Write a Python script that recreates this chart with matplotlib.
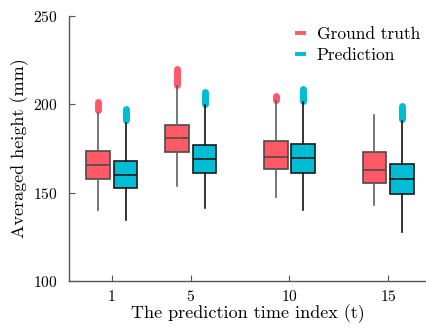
import matplotlib
matplotlib.use("Agg")
import matplotlib.pyplot as plt
from matplotlib.lines import Line2D

plt.rcParams["font.family"] = "cmr10"
plt.rcParams["mathtext.fontset"] = "cm"
plt.rcParams["axes.formatter.use_mathtext"] = True

# Prediction time indices
time_index = [1, 5, 10, 15]

# Box statistics (mm): ground truth
gt_q1 = [157.6, 172.9, 163.3, 155.2]
gt_med = [165.5, 180.6, 169.9, 162.9]
gt_q3 = [173.4, 188.1, 178.9, 172.7]
gt_wlo = [140.0, 153.8, 147.6, 142.8]
gt_whi = [195.0, 210.0, 201.5, 193.8]
gt_flier_lo = [196.7, 210.8, 202.4, None]
gt_flier_hi = [201.3, 219.7, 204.6, None]

# Box statistics (mm): prediction
pr_q1 = [152.4, 160.8, 160.8, 149.2]
pr_med = [160.0, 168.9, 169.3, 157.8]
pr_q3 = [167.6, 176.7, 177.2, 166.3]
pr_wlo = [134.3, 141.4, 140.3, 127.9]
pr_whi = [189.5, 199.5, 201.0, 190.5]
pr_flier_lo = [190.7, 200.1, 201.8, 191.6]
pr_flier_hi = [197.3, 206.9, 208.2, 198.8]

series_names = ["Ground truth", "Prediction"]
red = "#FF5A66"
cyan = "#00BCD4"

fig = plt.figure(figsize=(4.27, 3.30), dpi=100)
ax = fig.add_axes([0.1616, 0.1485, 0.8384, 0.8045])


def draw_group(q1, med, q3, wlo, whi, flo, fhi, offset, face, edge, wcol):
    stats = []
    for i in range(len(time_index)):
        stats.append(dict(q1=q1[i], med=med[i], q3=q3[i],
                          whislo=wlo[i], whishi=whi[i], fliers=[]))
    pos = [t + offset for t in time_index]
    ax.bxp(stats, positions=pos, widths=1.2, patch_artist=True,
           showfliers=False, showcaps=False,
           boxprops=dict(facecolor=face, edgecolor=edge, linewidth=1.2),
           medianprops=dict(color=edge, linewidth=1.2),
           whiskerprops=dict(color=wcol, linewidth=1.2),
           manage_ticks=False, zorder=3)
    for p, lo, hi in zip(pos, flo, fhi):
        if lo is None:
            continue
        ax.plot([p, p], [lo, hi], color=face, lw=5.0,
                solid_capstyle="round", zorder=2)


draw_group(gt_q1, gt_med, gt_q3, gt_wlo, gt_whi, gt_flier_lo, gt_flier_hi,
           -0.7, red, "#4a4a4a", "#606060")
draw_group(pr_q1, pr_med, pr_q3, pr_wlo, pr_whi, pr_flier_lo, pr_flier_hi,
           0.7, cyan, "#1a1a1a", "#111111")

ax.set_xlim(-1.16, 16.96)
ax.set_ylim(100, 250)
ax.set_xticks(time_index)
ax.set_yticks([100, 150, 200, 250])

for s in ["top", "right"]:
    ax.spines[s].set_visible(False)
for s in ["left", "bottom"]:
    ax.spines[s].set_color("#555555")
    ax.spines[s].set_linewidth(1.0)
ax.tick_params(direction="in", length=4, width=0.8, color="#555555",
               labelsize=11.2)
ax.tick_params(axis="x", pad=6)
ax.tick_params(axis="y", pad=8)

ax.set_xlabel("The prediction time index (t)", fontsize=13, labelpad=0)
ax.set_ylabel("Averaged height (mm)", fontsize=13, labelpad=3)

handles = [Line2D([0], [0], color=red, lw=2.8, solid_capstyle="butt"),
           Line2D([0], [0], color=cyan, lw=2.8, solid_capstyle="butt")]
ax.legend(handles, series_names, loc="upper right", frameon=False,
          fontsize=12.5, handlelength=0.65, handletextpad=0.6,
          labelspacing=0.35, borderaxespad=0.0, bbox_to_anchor=(1.0, 0.985))

fig.savefig("out.png", dpi=100)
